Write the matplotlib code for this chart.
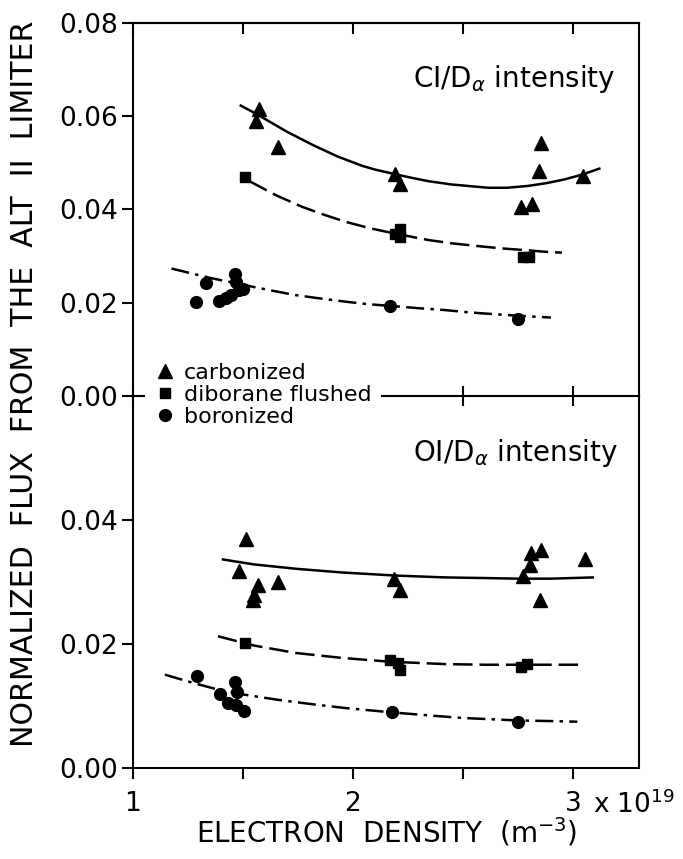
import matplotlib
matplotlib.use("Agg")
import matplotlib.pyplot as plt

plt.rcParams['font.family'] = ['DejaVu Sans']
plt.rcParams['lines.scale_dashes'] = False

# ---- CI/D_alpha panel (top) ----
carb_ci_x = [1.557, 1.575, 1.66, 2.193, 2.216, 2.766, 2.814, 2.846, 2.857, 3.045]
carb_ci_y = [0.0590, 0.0615, 0.0533, 0.0476, 0.0455, 0.0405, 0.0412, 0.0483, 0.0542, 0.0471]
dib_ci_x = [1.51, 2.19, 2.215, 2.215, 2.775, 2.80]
dib_ci_y = [0.0469, 0.0347, 0.0357, 0.0340, 0.0298, 0.0298]
bor_ci_x = [1.288, 1.33, 1.39, 1.424, 1.447, 1.462, 1.469, 1.484, 1.502, 2.17, 2.75]
bor_ci_y = [0.0202, 0.0241, 0.0204, 0.0209, 0.0216, 0.0262, 0.0245, 0.0227, 0.0230, 0.0193, 0.0164]

# fitted curves
carb_ci_fit_x = [1.49, 1.55, 1.605, 1.70, 1.816, 1.93, 2.042, 2.10, 2.193, 2.27, 2.344, 2.45,
                 2.615, 2.70, 2.796, 2.88, 2.962, 3.04, 3.12]
carb_ci_fit_y = [0.0622, 0.0607, 0.0592, 0.0566, 0.0538, 0.0513, 0.0493, 0.0485, 0.0475, 0.0467,
                 0.0460, 0.0453, 0.0446, 0.0446, 0.0450, 0.0456, 0.0464, 0.0474, 0.0487]
dib_ci_fit_x = [1.53, 1.65, 1.77, 1.87, 1.967, 2.08, 2.19, 2.344, 2.45, 2.57, 2.68, 2.796, 2.87, 2.95]
dib_ci_fit_y = [0.0460, 0.0430, 0.0405, 0.0388, 0.0373, 0.0359, 0.0348, 0.0334, 0.0327, 0.0321,
                0.0316, 0.0312, 0.0309, 0.0307]
bor_ci_fit_x = [1.175, 1.35, 1.544, 1.64, 1.74, 1.85, 1.967, 2.06, 2.17, 2.30, 2.42, 2.53, 2.65,
                2.78, 2.9]
bor_ci_fit_y = [0.0273, 0.0253, 0.0234, 0.0225, 0.0216, 0.0209, 0.0202, 0.0197, 0.0193, 0.0188,
                0.0184, 0.0179, 0.0175, 0.0171, 0.0168]

# ---- OI/D_alpha panel (bottom) ----
carb_oi_x = [1.481, 1.514, 1.544, 1.552, 1.567, 1.658, 2.186, 2.216, 2.774, 2.804, 2.811, 2.849, 2.857, 3.053]
carb_oi_y = [0.0318, 0.0369, 0.0270, 0.0278, 0.0294, 0.0300, 0.0304, 0.0287, 0.0310, 0.0327, 0.0346, 0.0270, 0.0351, 0.0336]
dib_oi_x = [1.511, 2.17, 2.205, 2.216, 2.765, 2.789]
dib_oi_y = [0.0201, 0.0174, 0.0168, 0.0158, 0.0163, 0.0167]
bor_oi_x = [1.293, 1.397, 1.431, 1.462, 1.469, 1.472, 1.504, 2.178, 2.748]
bor_oi_y = [0.0147, 0.0119, 0.0104, 0.0138, 0.0101, 0.0122, 0.0091, 0.0089, 0.0074]

carb_oi_fit_x = [1.409, 1.55, 1.74, 1.95, 2.193, 2.419, 2.6, 2.75, 2.9, 3.09]
carb_oi_fit_y = [0.0336, 0.0328, 0.0321, 0.0315, 0.0310, 0.0307, 0.0306, 0.0305, 0.0305, 0.0307]
dib_oi_fit_x = [1.386, 1.55, 1.74, 1.95, 2.163, 2.419, 2.6, 2.75, 2.9, 3.053]
dib_oi_fit_y = [0.0212, 0.0197, 0.0185, 0.0177, 0.0171, 0.0167, 0.0166, 0.0166, 0.0166, 0.0166]
bor_oi_fit_x = [1.145, 1.25, 1.363, 1.5, 1.665, 1.82, 1.967, 2.178, 2.35, 2.5, 2.75, 2.9, 3.02]
bor_oi_fit_y = [0.0150, 0.0139, 0.0128, 0.0118, 0.0109, 0.0102, 0.0096, 0.0089, 0.0084, 0.0080,
                0.0076, 0.0075, 0.0074]

labels = ['carbonized', 'diborane flushed', 'boronized']
x_ticks = [1, 1.5, 2, 2.5, 3]
x_ticklabels = ['1', '', '2', '', '3']
y_ticks_top = [0.0, 0.02, 0.04, 0.06, 0.08]
y_ticks_bot = [0.0, 0.02, 0.04]

solid = '-'
dashed = (0, (14, 5))
dashdot = (0, (13, 4.5, 2.5, 4.5))
lw = 1.8

fig = plt.figure(figsize=(6.83, 8.59), dpi=100)
ax1 = fig.add_axes([0.1947, 0.5390, 0.7408, 0.4348])
ax2 = fig.add_axes([0.1947, 0.1065, 0.7408, 0.4325])
for ax in (ax1, ax2):
    ax.set_facecolor('none')
    ax.set_xlim(1, 3.30)
    for s in ax.spines.values():
        s.set_linewidth(1.5)

ax1.set_ylim(0, 0.08)
ax2.set_ylim(0, 0.06)
ax1.spines['bottom'].set_visible(False)

# top panel
ax1.plot(carb_ci_fit_x, carb_ci_fit_y, color='black', lw=lw, linestyle=solid)
ax1.plot(dib_ci_fit_x, dib_ci_fit_y, color='black', lw=lw, linestyle=dashed, dash_capstyle='butt')
ax1.plot(bor_ci_fit_x, bor_ci_fit_y, color='black', lw=lw, linestyle=dashdot, dash_capstyle='butt')
ax1.plot(carb_ci_x, carb_ci_y, '^', color='black', ms=10, ls='none')
ax1.plot(dib_ci_x, dib_ci_y, 's', color='black', ms=7, ls='none')
ax1.plot(bor_ci_x, bor_ci_y, 'o', color='black', ms=8.5, ls='none')

# bottom panel
ax2.plot(carb_oi_fit_x, carb_oi_fit_y, color='black', lw=lw, linestyle=solid)
ax2.plot(dib_oi_fit_x, dib_oi_fit_y, color='black', lw=lw, linestyle=dashed, dash_capstyle='butt')
ax2.plot(bor_oi_fit_x, bor_oi_fit_y, color='black', lw=lw, linestyle=dashdot, dash_capstyle='butt')
h1, = ax2.plot(carb_oi_x, carb_oi_y, '^', color='black', ms=10, ls='none')
h2, = ax2.plot(dib_oi_x, dib_oi_y, 's', color='black', ms=7, ls='none')
h3, = ax2.plot(bor_oi_x, bor_oi_y, 'o', color='black', ms=8.5, ls='none')

# ticks
ax1.set_yticks(y_ticks_top)
ax1.set_yticklabels(['%.2f' % v for v in y_ticks_top])
ax2.set_yticks(y_ticks_bot)
ax2.set_yticklabels(['%.2f' % v for v in y_ticks_bot])
for ax in (ax1, ax2):
    ax.tick_params(axis='y', direction='out', length=8, width=1.5, pad=3,
                   labelsize=19, right=False)
    ax.set_xticks(x_ticks)

ax1.tick_params(axis='x', direction='inout', length=14, width=1.5,
                bottom=True, top=False, labelbottom=False)
top_ax = ax1.secondary_xaxis('top')
top_ax.set_xticks(x_ticks)
top_ax.set_xticklabels([])
top_ax.tick_params(direction='in', length=8, width=1.5)
top_ax.spines['top'].set_linewidth(1.5)

ax2.set_xticklabels(x_ticklabels)
ax2.tick_params(axis='x', direction='out', length=8, width=1.5, pad=9,
                labelsize=19, top=False)

fig.text(593 / 683, 1 - 813 / 859, r'x 10$^{19}$', fontsize=19,
         ha='left', va='baseline')

ax1.text(0.553, 0.826, r'CI/D$_{\alpha}$ intensity', transform=ax1.transAxes,
         fontsize=20, ha='left', va='baseline')
ax2.text(0.553, 0.826, r'OI/D$_{\alpha}$ intensity', transform=ax2.transAxes,
         fontsize=20, ha='left', va='baseline')

fig.text(25 / 683, 1 - 384 / 859,
         'NORMALIZED  FLUX  FROM  THE  ALT  II  LIMITER',
         rotation=90, fontsize=21.6, ha='center', va='center')
fig.text(0.5665, 1 - 842 / 859, r'ELECTRON  DENSITY  (m$^{-3}$)',
         fontsize=20, ha='center', va='baseline')

leg = ax2.legend([h1, h2, h3], labels, loc='center left',
                 bbox_to_anchor=(0.024, 1.0027), fontsize=16,
                 frameon=True, facecolor='white', edgecolor='none',
                 framealpha=1, fancybox=False, borderpad=0.4,
                 handlelength=1.0, handletextpad=0.35, labelspacing=0.08,
                 borderaxespad=0, numpoints=1)
leg.set_zorder(10)

fig.savefig('out.png', dpi=100)
